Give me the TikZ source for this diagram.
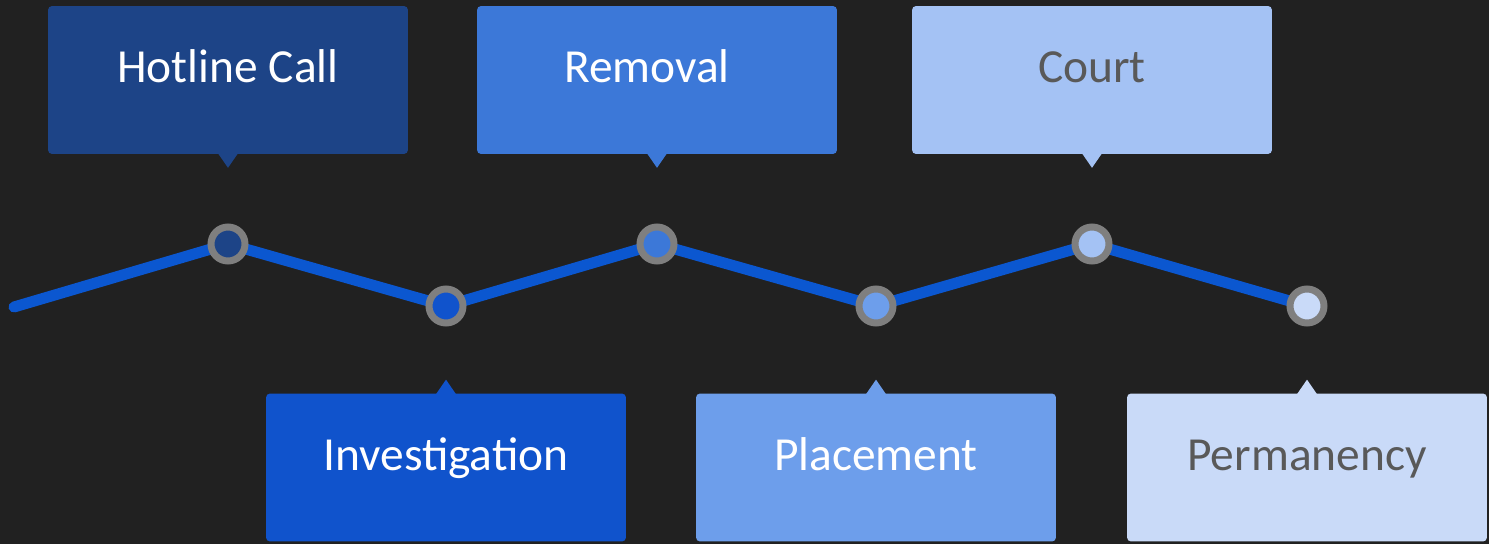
\documentclass[tikz,border=0pt]{standalone}
\usepackage{fontspec}
\setmainfont{Carlito}
\usepackage{tikz}
\usetikzlibrary{backgrounds}

\definecolor{bgdark}{HTML}{212121}
\definecolor{linkblue}{HTML}{0B57D0}
\definecolor{ringgray}{HTML}{7F7F7F}
\definecolor{hotlinec}{HTML}{1D4487}
\definecolor{investc}{HTML}{1053CC}
\definecolor{removalc}{HTML}{3C78D8}
\definecolor{placec}{HTML}{6D9EEB}
\definecolor{courtc}{HTML}{A4C2F4}
\definecolor{permc}{HTML}{C9DAF8}
\definecolor{darktext}{HTML}{595959}

\tikzset{
  stage/.style={rectangle,rounded corners=0.08cm,minimum width=7.2cm,inner sep=0pt,
    text height=1.54cm,text depth=1.42cm,font=\fontsize{27}{32}\selectfont,text=white},
  milestone/.style={circle,draw=ringgray,line width=0.14cm,minimum size=0.68cm,inner sep=0pt},
}

\begin{document}
\begin{tikzpicture}[x=0.02cm,y=-0.02cm]
        \useasboundingbox (0,0) rectangle (1489,544);

        \node[stage,fill=hotlinec] (hotline) at (228,80) {Hotline Call};
        \node[stage,fill=removalc] (removal) at (657,80) {Removal\hspace*{0.4cm}};
        \node[stage,fill=courtc,text=darktext] (court) at (1092,80) {Court};
        \node[stage,fill=investc] (invest) at (446,467.5) {Investigation};
        \node[stage,fill=placec] (place) at (876,467.5) {Placement};
        \node[stage,fill=permc,text=darktext] (perm) at (1307,467.5) {Permanency};

        \fill[hotlinec] ([xshift=-0.2cm,yshift=0.02cm]hotline.south) -- ([yshift=-0.27cm]hotline.south) -- ([xshift=0.2cm,yshift=0.02cm]hotline.south) -- cycle;
        \fill[removalc] ([xshift=-0.2cm,yshift=0.02cm]removal.south) -- ([yshift=-0.27cm]removal.south) -- ([xshift=0.2cm,yshift=0.02cm]removal.south) -- cycle;
        \fill[courtc] ([xshift=-0.2cm,yshift=0.02cm]court.south) -- ([yshift=-0.27cm]court.south) -- ([xshift=0.2cm,yshift=0.02cm]court.south) -- cycle;
        \fill[investc] ([xshift=-0.2cm,yshift=-0.02cm]invest.north) -- ([yshift=0.27cm]invest.north) -- ([xshift=0.2cm,yshift=-0.02cm]invest.north) -- cycle;
        \fill[placec] ([xshift=-0.2cm,yshift=-0.02cm]place.north) -- ([yshift=0.27cm]place.north) -- ([xshift=0.2cm,yshift=-0.02cm]place.north) -- cycle;
        \fill[permc] ([xshift=-0.2cm,yshift=-0.02cm]perm.north) -- ([yshift=0.27cm]perm.north) -- ([xshift=0.2cm,yshift=-0.02cm]perm.north) -- cycle;

        \coordinate (start) at (14,307);
        \node[milestone,fill=hotlinec] (hotlineM) at (228,244) {};
        \node[milestone,fill=investc]  (investM)  at (446,306) {};
        \node[milestone,fill=removalc] (removalM) at (657,244) {};
        \node[milestone,fill=placec]   (placeM)   at (876,306) {};
        \node[milestone,fill=courtc]   (courtM)   at (1092,244) {};
        \node[milestone,fill=permc]    (permM)    at (1307,306) {};

        \begin{scope}[on background layer]
            \fill[bgdark] (0,0) rectangle (1489,544);
            \draw[linkblue,line width=0.22cm,line cap=round,line join=round]
                (start) -- (hotlineM.center) -- (investM.center) -- (removalM.center)
                -- (placeM.center) -- (courtM.center) -- (permM.center);
        \end{scope}
    \end{tikzpicture}
\end{document}
